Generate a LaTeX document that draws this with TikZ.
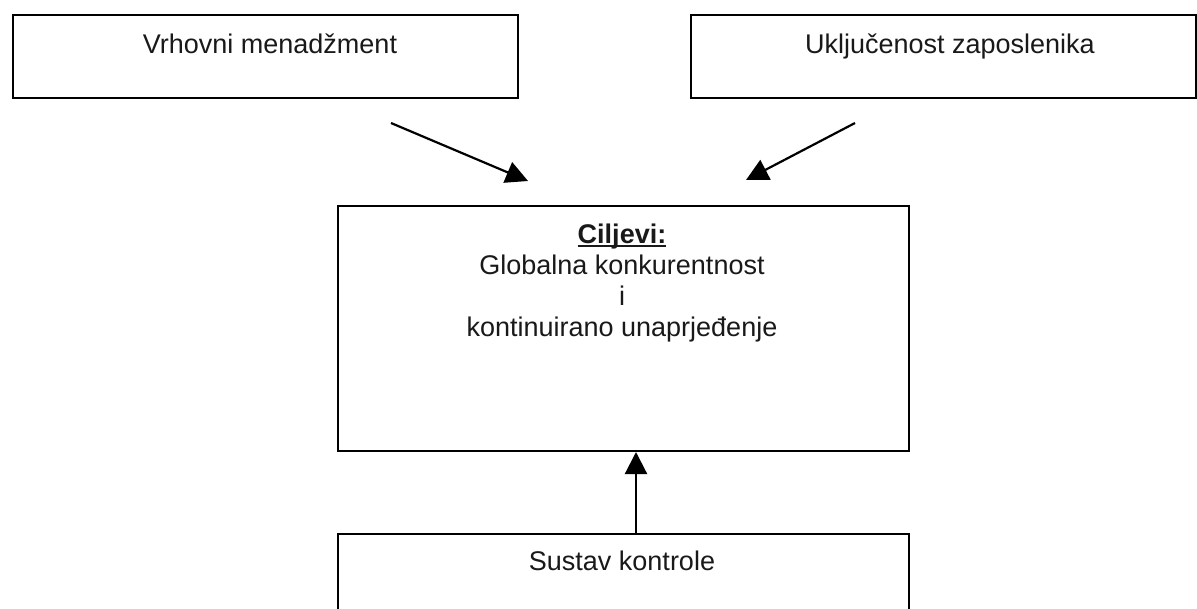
\documentclass[tikz,border=0pt]{standalone}
\usepackage{fontspec}
\setmainfont{Liberation Sans}
\usetikzlibrary{arrows.meta,calc}
\newcommand\myuline[1]{\setbox0\hbox{#1}\rlap{\rule[-3.5pt]{\wd0}{1.8pt}}\box0}
\tikzset{
  boxnode/.style={draw=black, line width=2pt, fill=white, rectangle, inner sep=0pt, anchor=north west},
  lbl/.style={inner sep=0pt, anchor=base, font=\fontsize{27}{31}\selectfont, text=black!90},
  arr/.style={draw=black, line width=2.2pt, -{Triangle[length=22pt,width=22pt]}}
}
\begin{document}
\begin{tikzpicture}[x=1pt,y=-1pt]
\path[use as bounding box, clip] (0,0) rectangle (1197,608);
\fill[white] (0,0) rectangle (1197,608);
% boxes
\node[boxnode, minimum width=505pt, minimum height=83pt] (vm) at (12,14) {};
\node[boxnode, minimum width=505pt, minimum height=83pt] (uz) at (690,14) {};
\node[boxnode, minimum width=571pt, minimum height=245pt] (cj) at (337,205) {};
\node[boxnode, minimum width=571pt, minimum height=120pt] (sk) at (337,533) {};
% texts
\node[lbl] (tvm) at (270,53) {Vrhovni menadžment};
\node[lbl] (tuz) at (950,53) {Uključenost zaposlenika};
\node[lbl] (tc1) at (622,243) {\myuline{\textbf{Ciljevi:}}};
\node[lbl] (tc2) at (622,274) {Globalna konkurentnost};
\node[lbl] (tc3) at (622,305) {i};
\node[lbl] (tc4) at (622,336) {kontinuirano unaprjeđenje};
\node[lbl] (tsk) at (622,570) {Sustav kontrole};
% free arrow ends
\coordinate (a1s) at (391,123);
\coordinate (a1e) at (528,181);
\coordinate (a2s) at (855,123);
\coordinate (a2e) at (746,180);
\draw[arr] (a1s) -- (a1e);
\draw[arr] (a2s) -- (a2e);
\draw[arr] ($(sk.north west)+(299,0)$) -- ($(cj.south west)+(299,0)$);
\end{tikzpicture}
\end{document}
